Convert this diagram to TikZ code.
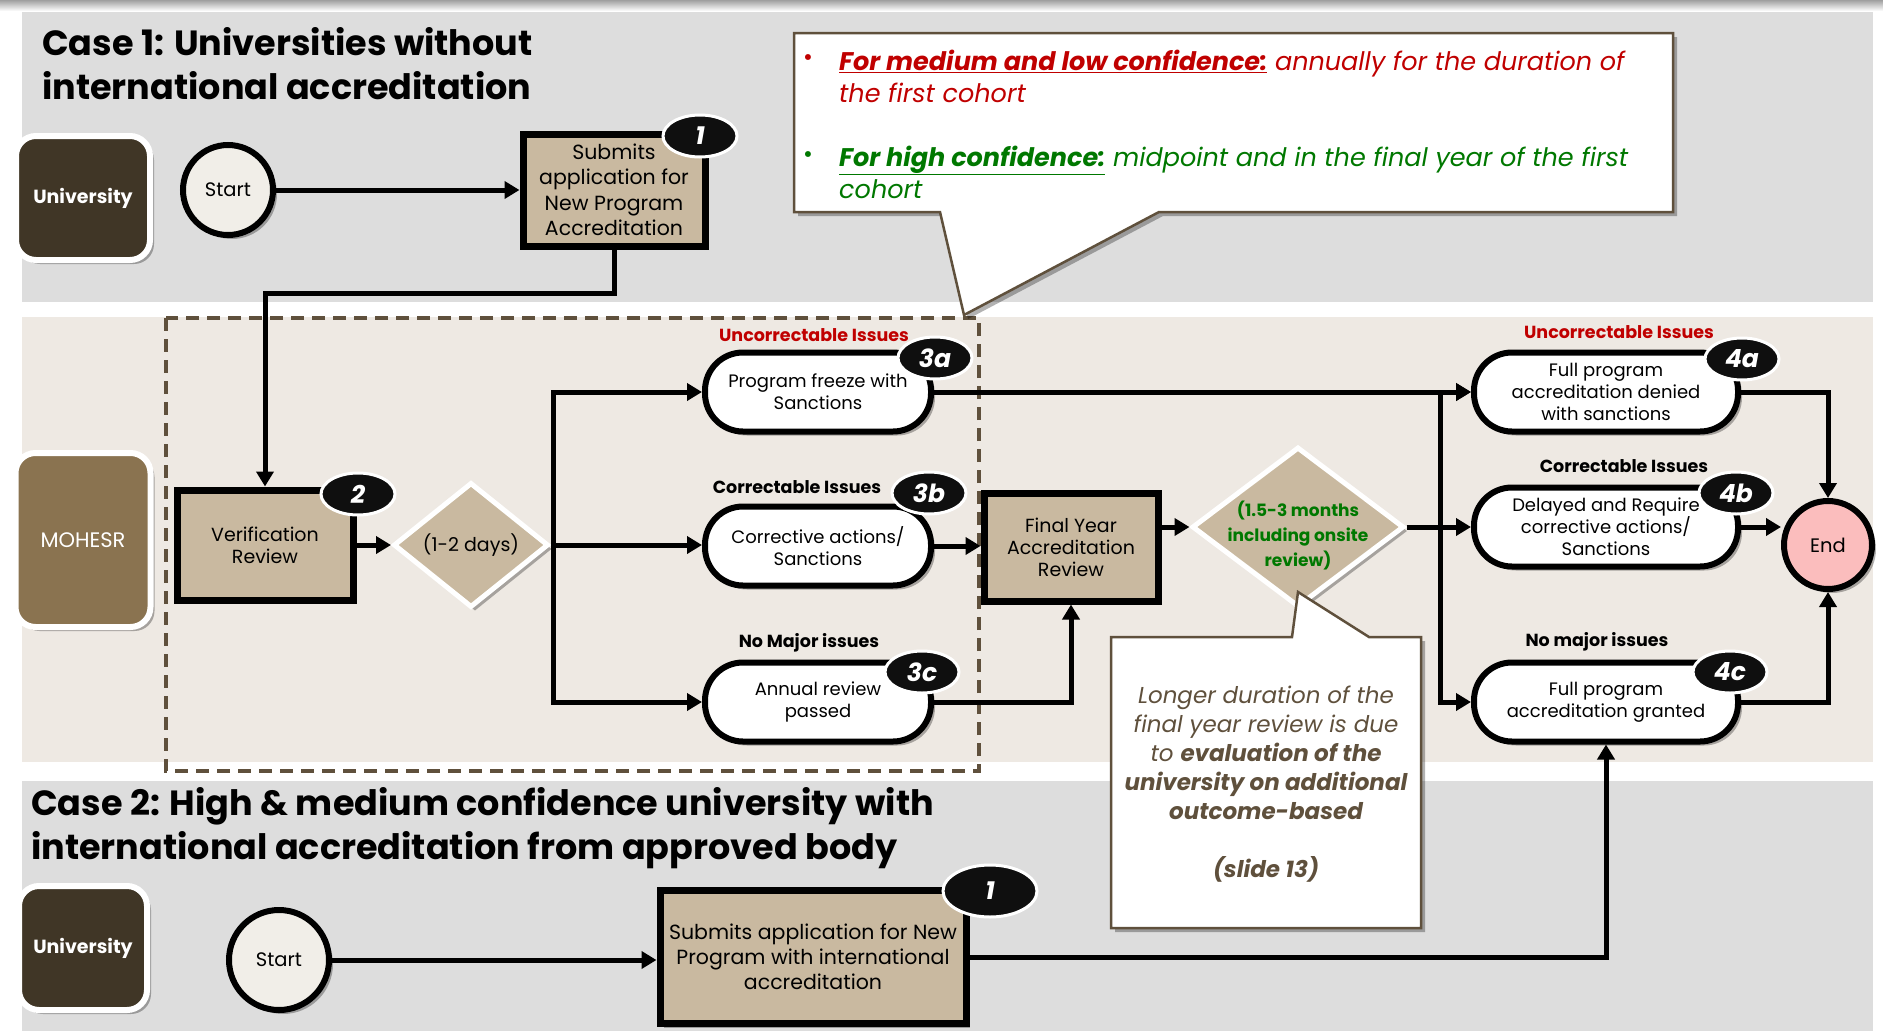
\documentclass[tikz,border=0pt]{standalone}
\usepackage{fontspec}
\setmainfont{Poppins}
\usetikzlibrary{arrows.meta,shapes.geometric,shadows,calc}
\definecolor{bandgray}{RGB}{221,221,221}
\definecolor{bandbeige}{RGB}{238,233,227}
\definecolor{unidark}{RGB}{64,54,38}
\definecolor{moh}{RGB}{138,115,80}
\definecolor{tanc}{RGB}{201,185,160}
\definecolor{startc}{RGB}{241,238,232}
\definecolor{endc}{RGB}{251,189,189}
\definecolor{brownline}{RGB}{95,80,60}
\definecolor{redc}{RGB}{192,0,0}
\definecolor{greenc}{RGB}{0,120,0}
\definecolor{badgec}{RGB}{15,15,15}
\newcommand\fsz[2]{\fontsize{#1}{#2}\selectfont}
\begin{document}
\begin{tikzpicture}[x=1pt,y=-1pt,
 shad/.style={drop shadow={shadow xshift=4pt,shadow yshift=-4pt,opacity=0.3,fill=black}},
 conn/.style={line width=5pt,-{Triangle[length=15pt,width=17pt]}},
 plain/.style={line width=5pt},
 tanbox/.style={draw=black,line width=7pt,fill=tanc,inner sep=0pt,align=center,shad},
 pill/.style={draw=black,line width=6pt,fill=white,rounded corners=38pt,minimum width=226pt,minimum height=79pt,inner sep=0pt,align=center,font=\fsz{18}{22},shad},
 lane/.style={draw=white,line width=6pt,rounded corners=20pt,inner sep=0pt,align=center,text=white,shad},
 term/.style={circle,draw=black,line width=6pt,inner sep=0pt,font=\fsz{19.5}{22},shad},
 dia/.style={diamond,draw=white,line width=5pt,fill=tanc,inner sep=0pt,align=center,shad},
 badge/.style={ellipse,fill=badgec,draw=white,line width=3pt,minimum width=74pt,minimum height=42pt,inner sep=0pt,text=white,font=\fsz{25}{25}\bfseries\itshape},
 lbl/.style={font=\fsz{17.5}{20}\bfseries,inner sep=0pt},
 callout/.style={draw=brownline,line width=2.5pt,fill=white,shad}
]
\useasboundingbox (0,0) rectangle (1883,1031);
% backgrounds
\fill[top color=gray!75,bottom color=white] (0,0) rectangle (1883,11);
\fill[bandgray] (22,12) rectangle (1873,302);
\fill[bandbeige] (22,317) rectangle (1873,762);
\fill[bandgray] (22,781) rectangle (1873,1031);
\draw[brownline,line width=3.5pt,dash pattern=on 13pt off 8pt] (166,318) rectangle (979,771);
% titles
\node[anchor=west,align=left,font=\fsz{35}{44}\bfseries,inner sep=0pt] (t1) at (42,64) {Case 1: Universities without\\international accreditation};
\node[anchor=west,align=left,font=\fsz{35}{44}\bfseries,inner sep=0pt] (t2) at (31,828) {Case 2: High \& medium confidence university with\\international accreditation from approved body};
% lanes
\node[lane,fill=unidark,minimum width=134pt,minimum height=124pt,font=\fsz{19}{22}\bfseries] (uni1) at (83,198) {University};
\node[lane,fill=moh,minimum width=135pt,minimum height=174pt,font=\fsz{21}{22}] (moh) at (83,540) {MOHESR};
\node[lane,fill=unidark,minimum width=128pt,minimum height=124pt,font=\fsz{19}{22}\bfseries] (uni2) at (83,948) {University};
% terminals
\node[term,fill=startc,minimum size=90pt] (s1) at (228,190) {Start};
\node[term,fill=startc,minimum size=100pt] (s2) at (279,960) {Start};
\node[term,fill=endc,minimum size=88pt] (end) at (1828,545) {End};
% boxes
\node[tanbox,minimum width=182pt,minimum height=112pt,font=\fsz{20.5}{25.5}] (a1) at (614,190) {Submits\\application for\\New Program\\Accreditation};
\node[tanbox,minimum width=176pt,minimum height=110pt,font=\fsz{19}{22}] (ver) at (265,545) {Verification\\Review};
\node[tanbox,minimum width=174pt,minimum height=108pt,font=\fsz{19}{22}] (fyr) at (1071,547) {Final Year\\Accreditation\\Review};
\node[tanbox,minimum width=306pt,minimum height=133pt,font=\fsz{20.5}{25}] (a2) at (813,957) {Submits application for New\\Program with international\\accreditation};
% diamonds
\node[dia,minimum width=155pt,minimum height=125pt,font=\fsz{19}{22}] (d1) at (471,545) {(1-2 days)};
\node[dia,minimum width=212pt,minimum height=160pt,label={[font=\fsz{17}{25}\bfseries,text=greenc,align=center,yshift=-9pt]center:{(1.5-3 months\\including onsite\\review)}}] (d2) at (1298,527) {};
% pills
\node[pill] (p3a) at (818,392) {Program freeze with\\Sanctions};
\node[pill] (p3b) at (818,546) {Corrective actions/\\Sanctions};
\node[pill] (p3c) at (818,702) {Annual review\\passed};
\node[pill,minimum width=264pt] (p4a) at (1606,392) {Full program\\accreditation denied\\with sanctions};
\node[pill,minimum width=264pt] (p4b) at (1606,527) {Delayed and Require\\corrective actions/\\Sanctions};
\node[pill,minimum width=264pt] (p4c) at (1606,702) {Full program\\accreditation granted};
% labels
\node[lbl,text=redc] (l3a) at (814,335) {Uncorrectable Issues};
\node[lbl] (l3b) at (797,487) {Correctable Issues};
\node[lbl] (l3c) at (809,643) {No Major issues};
\node[lbl,text=redc] (l4a) at (1619,332) {Uncorrectable Issues};
\node[lbl] (l4b) at (1624,466) {Correctable Issues};
\node[lbl] (l4c) at (1597,642) {No major issues};
% connectors
\coordinate (j1) at (265,293);
\coordinate (br1) at (553,545);
\coordinate (br2) at (1440,527);
\draw[conn] (s1) -- (a1);
\draw[conn] (a1.south) |- (j1) -- (ver.north);
\draw[conn] (ver) -- (d1);
\draw[conn] (d1.east) -- (d1.east -| p3b.west);
\draw[conn] (br1) |- (p3a.west);
\draw[conn] (br1) |- (p3c.west);
\draw[conn] (p3a.east) -- (p4a.west);
\draw[conn] (p3b.east) -- (p3b.east -| fyr.west);
\draw[conn] (p3c.east) -| (fyr.south);
\draw[conn] (fyr.east |- d2.west) -- (d2.west);
\draw[conn] (d2.east) -- (p4b.west);
\draw[conn] (br2) |- (p4a.west);
\draw[conn] (br2) |- (p4c.west);
\draw[conn] (p4a.east) -| (end.north);
\draw[conn] (p4b.east) -- (p4b.east -| end.west);
\draw[conn] (p4c.east) -| (end.south);
\draw[conn] (s2) -- (s2 -| a2.west);
\draw[conn] (a2.east) -| (p4c.south);
% badges
\node[badge] (b1) at (700,136) {1};
\node[badge] (b2) at (358,494) {2};
\node[badge] (b3a) at (935,358) {3a};
\node[badge] (b3b) at (929,493) {3b};
\node[badge] (b3c) at (922,672) {3c};
\node[badge] (b4a) at (1742,359) {4a};
\node[badge] (b4b) at (1736,493) {4b};
\node[badge] (b4c) at (1730,672) {4c};
\node[badge,minimum width=94pt,minimum height=52pt] (b5) at (990,891) {1};
% callouts
\draw[callout] (794,33) -- (1673,33) -- (1673,212) -- (1159,212) -- (964,315) -- (940,212) -- (794,212) -- cycle;
\node[font=\fsz{24}{24},text=redc,inner sep=0pt] (bu1) at (808,60) {•};
\node[font=\fsz{24}{24},text=greenc,inner sep=0pt] (bu2) at (808,157) {•};
\node[anchor=west,align=left,font=\fsz{25.5}{32}\itshape,text=redc,inner sep=0pt] (cl1) at (839,76) {\textbf{\underline{For medium and low confidence:}} annually for the duration of\\the first cohort};
\node[anchor=west,align=left,font=\fsz{25.5}{32}\itshape,text=greenc,inner sep=0pt] (cl2) at (839,172) {\textbf{\underline{For high confidence:}} midpoint and in the final year of the first\\cohort};
\draw[callout] (1111,637) -- (1292,637) -- (1298,592) -- (1369,637) -- (1421,637) -- (1421,928) -- (1111,928) -- cycle;
\node[align=center,font=\fsz{23}{29}\itshape,text=brownline,inner sep=0pt] (note) at (1266,784) {Longer duration of the\\final year review is due\\to \textbf{evaluation of the}\\\textbf{university on additional}\\\textbf{outcome-based}\\[29pt]\textbf{(slide 13)}};
\end{tikzpicture}
\end{document}
